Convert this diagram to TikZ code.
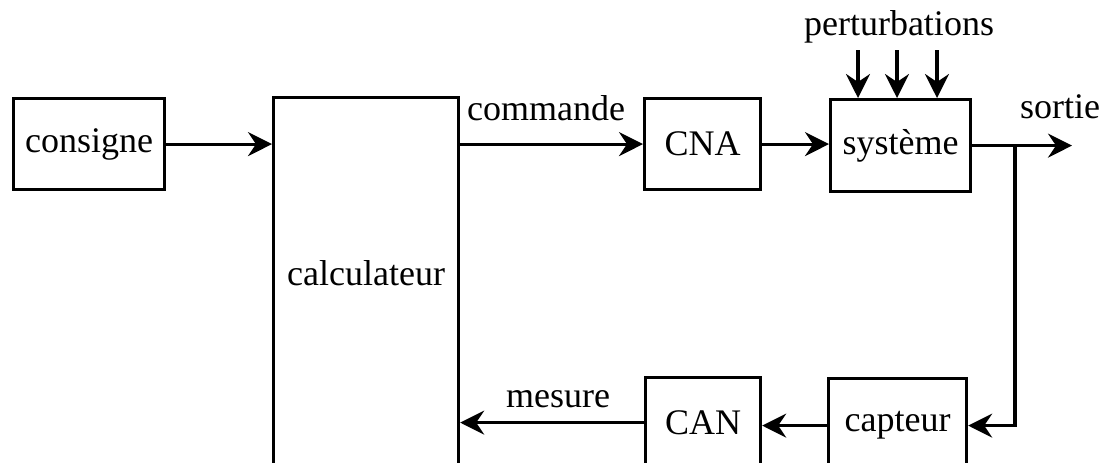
\documentclass[tikz,border=0pt]{standalone}
\usepackage{fontspec}
\setmainfont{Liberation Serif}
\usetikzlibrary{arrows.meta}
\begin{document}
\begin{tikzpicture}[x=1pt,y=-1pt,
  blk/.style={draw, line width=3.2pt, inner sep=0pt, anchor=north west},
  conn/.style={line width=3.2pt, -{Stealth[length=24pt,width=24pt,inset=8pt]}},
  lbl/.style={anchor=base, inner sep=0pt},
  every node/.style={font=\fontsize{36}{40}\selectfont}]
\useasboundingbox (0,0) rectangle (1103,463);
\clip (0,0) rectangle (1103,463);
% boxes
\node[blk, minimum width=151pt, minimum height=91pt] (cons) at (12,97) {consigne};
\node[blk, minimum width=185pt, minimum height=420pt,
      label={[yshift=34pt]center:calculateur}] (calc) at (272,96) {};
\node[blk, minimum width=116pt, minimum height=91pt] (cna) at (643,97) {CNA};
\node[blk, minimum width=140pt, minimum height=92pt] (sys) at (829,98) {système};
\node[blk, minimum width=115pt, minimum height=90pt] (can) at (644,376) {CAN};
\node[blk, minimum width=138pt, minimum height=94pt] (capt) at (827,377) {capteur};
% labels
\node[lbl] (lcmd) at (546,120) {commande};
\node[lbl] (lsort) at (1060,118) {sortie};
\node[lbl] (lmes) at (558,407) {mesure};
\node[lbl] (lpert) at (899,35) {perturbations};
% coordinates
\coordinate (out) at (1072,144);
\coordinate (br) at (1015,144);
\coordinate (p1) at (858,50);
\coordinate (p2) at (897,50);
\coordinate (p3) at (937,50);
% connectors
\draw[conn] (cons.east) -- (cons.east -| calc.west);
\draw[conn] (calc.east |- cna.west) -- (cna.west);
\draw[conn] (cna.east) -- (cna.east -| sys.west);
\draw[conn] (sys.east) -- (sys.east -| out);
\draw[conn] (sys.east -| br) -- (br |- capt.east) -- (capt.east);
\draw[conn] (capt.west) -- (capt.west -| can.east);
\draw[conn] (can.west) -- (can.west -| calc.east);
\draw[conn] (p1) -- (p1 |- sys.north);
\draw[conn] (p2) -- (p2 |- sys.north);
\draw[conn] (p3) -- (p3 |- sys.north);
\end{tikzpicture}
\end{document}
